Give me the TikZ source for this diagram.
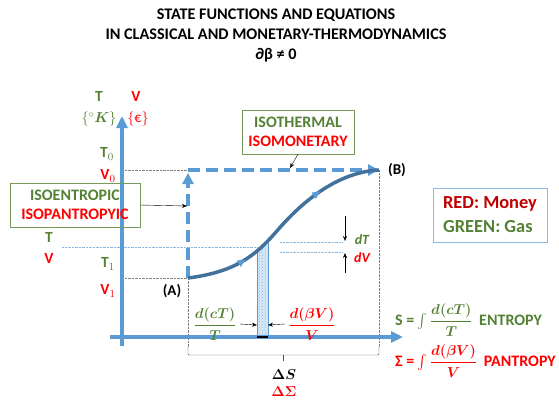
\documentclass[tikz,border=0pt]{standalone}
\usepackage{amsmath,amssymb,bm}
\usepackage{fontspec}
\setmainfont{Carlito}
\usepackage{tikz}
\usetikzlibrary{arrows.meta,positioning,decorations.markings,patterns,calc}
\usepackage{xcolor}
\definecolor{axisblue}{RGB}{91,155,213}
\definecolor{curveblue}{RGB}{65,113,156}
\definecolor{gas}{RGB}{84,130,53}
\definecolor{money}{RGB}{255,0,0}
\definecolor{darkmoney}{RGB}{192,0,0}

\begin{document}
\begin{tikzpicture}[x=1pt,y=-1pt,font=\bfseries,
  axis/.style={axisblue,line width=4pt,-{Triangle[length=12pt,width=11pt]}},
  dashpath/.style={axisblue,line width=3.5pt,dash pattern=on 12pt off 6pt,-{Triangle[length=11pt,width=11pt]}},
  guide/.style={gray,densely dotted,thin},
  bluedot/.style={axisblue!70,densely dotted,thin},
  pointer/.style={black,thin,-{Stealth[length=5pt,width=4pt]}},
  labelbox/.style={draw=gas!80,thin,align=center,inner sep=4pt,font=\bfseries\fontsize{16}{19}\selectfont},
  axlabel/.style={inner sep=0pt,font=\bfseries\fontsize{15.5}{15.5}\selectfont}]
\useasboundingbox (0,0) rectangle (559,404);

\node[align=center,font=\bfseries\fontsize{16.2}{20}\selectfont] (title) at (276,35)
  {STATE FUNCTIONS AND EQUATIONS\\IN CLASSICAL AND MONETARY-THERMODYNAMICS\\∂β ≠ 0};

% points of the path
\coordinate (A) at (188,278);
\coordinate (B) at (379,170);
\coordinate (C) at (188,170);
\coordinate (Cup) at (188,173);

% guide lines
\draw[guide] (122,170) -- (C);
\draw[guide] (122,278) -- (A) -- (188,347);
\draw[guide] (B) -- (379,347);
\draw[bluedot] (62,247) -- (258,247);
\draw[bluedot] (280,242) -- (342,242);
\draw[bluedot] (280,252) -- (342,252);

% strip under the curve
\begin{scope}
  \clip (A) .. controls (235,272) and (255,256) .. (276,232)
        .. controls (305,198) and (340,172) .. (B) -- (379,337) -- (188,337) -- cycle;
  \fill[axisblue!22] (257,200) rectangle (268,337);
  \fill[pattern=crosshatch dots,pattern color=axisblue!70] (257,200) rectangle (268,337);
  \draw[axisblue,thin] (257,200) rectangle (268,337);
\end{scope}

% axes
\draw[axis] (122,346) -- (122,116);
\draw[axis] (110,337) -- (403,337);
\draw[black,line width=2pt] (257,337) -- (268,337);

% process paths
\draw[dashpath] (A) -- (Cup);
\draw[dashpath] (C) -- (B);
\draw[curveblue,line width=3.5pt,
  decoration={markings,
    mark=at position 0.27 with {\arrow[axisblue]{Triangle[length=8pt,width=7pt]}},
    mark=at position 0.72 with {\arrow[axisblue]{Triangle[length=8pt,width=7pt]}}},
  postaction={decorate}]
  (A) .. controls (235,272) and (255,256) .. (276,232)
      .. controls (305,198) and (340,172) .. (B);

\node[font=\bfseries\fontsize{15}{15}\selectfont] (lA) at (172,291) {(A)};
\node[font=\bfseries\fontsize{15}{15}\selectfont] (lB) at (397,170) {(B)};

% axis labels
\node[axlabel,gas] (lT) at (99,96) {T};
\node[axlabel,money] (lV) at (136,96) {V};
\node[axlabel,gas,font=\fontsize{14}{14}\selectfont] (uK) at (99,119) {$\{{}^\circ\bm{K}\}$};
\node[axlabel,money,font=\fontsize{14}{14}\selectfont] (uE) at (138,119) {$\{$€$\}$};
\node[axlabel,gas] (T0) at (107,154) {T$_0$};
\node[axlabel,money] (V0) at (108,176) {V$_0$};
\node[axlabel,gas] (Tm) at (49,237) {T};
\node[axlabel,money] (Vm) at (49,258) {V};
\node[axlabel,gas] (T1) at (108,264) {T$_1$};
\node[axlabel,money] (V1) at (108,291) {V$_1$};

% boxes
\node[labelbox,minimum width=130pt,minimum height=44pt] (isoS) at (75,205) {\textcolor{gas}{ISOENTROPIC}\\\textcolor{money}{ISOPANTROPYIC}};
\coordinate (isoSend) at (187,206);
\draw[pointer] (isoS.east) -- (isoSend);
\node[labelbox,minimum width=112pt,minimum height=44pt] (isoT) at (298,132) {\textcolor{gas}{ISOTHERMAL}\\\textcolor{money}{ISOMONETARY}};
\coordinate (isoTend) at (290,168);
\draw[pointer] (isoT.south) -- (isoTend);

\node[draw=axisblue!70,thin,align=left,inner sep=4pt,minimum width=114pt,minimum height=54pt,
  font=\bfseries\fontsize{18.4}{24}\selectfont] (legend) at (490,215)
  {\textcolor{darkmoney}{RED: Money}\\\textcolor{gas}{GREEN: Gas}};

% increments
\coordinate (dTtop) at (345,216);
\coordinate (dTbot) at (345,241);
\coordinate (dVtop) at (345,253);
\coordinate (dVbot) at (345,273);
\draw[pointer] (dTtop) -- (dTbot);
\draw[pointer] (dVbot) -- (dVtop);
\node[gas,font=\bfseries\itshape\fontsize{14}{14}\selectfont] (ldT) at (362,240) {dT};
\node[money,font=\bfseries\itshape\fontsize{14}{14}\selectfont] (ldV) at (362,258) {dV};

\node[gas,font=\fontsize{14.5}{14.5}\selectfont] (fracS) at (215,324) {$\boldsymbol{\dfrac{d(cT)}{T}}$};
\node[money,font=\fontsize{14.5}{14.5}\selectfont] (fracV) at (312,324) {$\boldsymbol{\dfrac{d(\beta V)}{V}}$};
\coordinate (barL) at (257,325);
\coordinate (barR) at (268,325);
\draw[pointer] (fracS.east) -- (barL);
\draw[pointer] (fracV.west) -- (barR);

% range of the change
\draw[black!70,thin,rounded corners=1pt] (188,347) -- (188,355) -- (379,355) -- (379,347);
\draw[black!70,thin] (283,355) -- (283,361);
\node[font=\fontsize{15.5}{15.5}\selectfont] (dS) at (284,375) {$\bm{\Delta S}$};
\node[money,font=\fontsize{15.5}{15.5}\selectfont] (dSig) at (284,392) {$\bm{\Delta\Sigma}$};

% definitions
\node[gas,anchor=west,inner sep=0pt,font=\bfseries\fontsize{16}{16}\selectfont] (entropy) at (395,320)
  {S = \fontsize{14.5}{14.5}\selectfont$\int\boldsymbol{\dfrac{d(cT)}{T}}$\ \ \fontsize{16}{16}\selectfont ENTROPY};
\node[money,anchor=west,inner sep=0pt,font=\bfseries\fontsize{16}{16}\selectfont] (pantropy) at (395,361)
  {Σ = \fontsize{14.5}{14.5}\selectfont$\int\boldsymbol{\dfrac{d(\beta V)}{V}}$\ \ \fontsize{16}{16}\selectfont PANTROPY};
\end{tikzpicture}
\end{document}
